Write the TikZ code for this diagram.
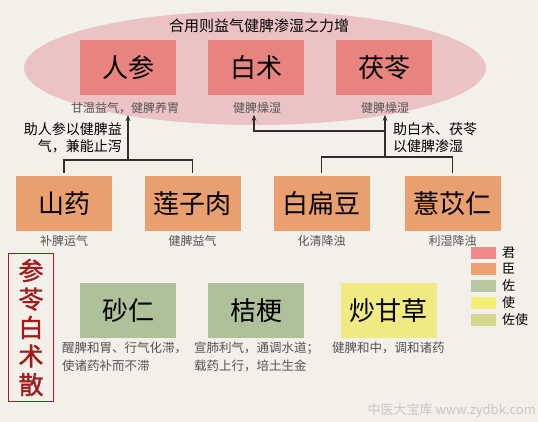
\documentclass[tikz,border=0pt]{standalone}
\usepackage{fontspec}
\setmainfont{Noto Sans CJK SC}
\newfontfamily\cjkb[FakeBold=1.5]{Noto Sans CJK SC}
\usetikzlibrary{arrows.meta,calc}
\definecolor{bg}{HTML}{F3EFE9}
\definecolor{ell}{HTML}{EBC3C4}
\definecolor{jun}{HTML}{E8847F}
\definecolor{chen}{HTML}{E9A06E}
\definecolor{zuo}{HTML}{AFC19A}
\definecolor{shi}{HTML}{EFEA82}
\definecolor{zuoshi}{HTML}{D5D78E}
\definecolor{lgjun}{HTML}{EE8A8A}
\definecolor{lgchen}{HTML}{EFA070}
\definecolor{lgzuo}{HTML}{B5C8A2}
\definecolor{lgshi}{HTML}{F5EF7A}
\definecolor{titred}{HTML}{A31A1C}
\definecolor{subgray}{HTML}{555555}
\definecolor{linec}{HTML}{2E2E2E}
\tikzset{
  herb/.style={minimum width=96pt, minimum height=55pt, inner sep=0pt, font=\fontsize{26}{28}\selectfont, text=black},
  sub/.style={font=\fontsize{12}{14}\selectfont, text=subgray, inner sep=1pt},
  desc/.style={font=\fontsize{12.5}{18}\selectfont, text=subgray, inner sep=0pt, align=left, anchor=north west},
  lab/.style={font=\fontsize{14}{17}\selectfont, text=black, inner sep=0pt},
  conn/.style={draw=linec, line width=1.3pt},
  arr/.style={conn, -{Stealth[length=6pt,width=4.5pt]}},
  swatch/.style={minimum width=25pt, minimum height=12pt, inner sep=0pt},
  lgtext/.style={font=\fontsize{13}{14}\selectfont, anchor=west, inner sep=0pt}
}
\begin{document}
\begin{tikzpicture}[x=1pt,y=-1pt]
\fill[bg] (0,0) rectangle (538,422);
\useasboundingbox (0,0) rectangle (538,422);
% ellipse
\fill[ell] (255,68) ellipse [x radius=231, y radius=57];
\node[font=\fontsize{15}{17}\selectfont, inner sep=0pt] (title) at (259,26) {合用则益气健脾渗湿之力增};
% jun
\node[herb, fill=jun] (renshen) at (128,67.5) {人参};
\node[herb, fill=jun] (baizhu) at (256,67.5) {白术};
\node[herb, fill=jun] (fuling) at (384,67.5) {茯苓};
\node[sub] (rsSub) at (125,108) {甘温益气，健脾养胃};
\node[sub] (bzSub) at (257,108) {健脾燥湿};
\node[sub] (flSub) at (385,108) {健脾燥湿};
% chen
\node[herb, fill=chen] (shanyao) at (64,203.5) {山药};
\node[herb, fill=chen] (lianzi) at (192.5,203.5) {莲子肉};
\node[herb, fill=chen] (biandou) at (321.5,203.5) {白扁豆};
\node[herb, fill=chen] (yiyi) at (452.5,203.5) {薏苡仁};
\node[sub] (sySub) at (64,241) {补脾运气};
\node[sub] (lzSub) at (192.5,241) {健脾益气};
\node[sub] (bdSub) at (321.5,241) {化清降浊};
\node[sub] (yySub) at (452.5,241) {利湿降浊};
% connectors
\coordinate (jL) at (128,160);
\coordinate (jR) at (385,157);
\coordinate (jT) at (385,131);
\draw[conn] ([yshift=3pt]shanyao.north) |- (jL) -| ([yshift=3pt]lianzi.north);
\draw[arr] (jL) -- (jL |- rsSub.south);
\draw[conn] ([yshift=3pt]biandou.north) |- (jR) -| ([yshift=3pt]yiyi.north);
\draw[arr] (jR) -- (jR |- flSub.south);
\draw[arr] (jT) -| ([xshift=-3pt]bzSub.south);
\node[lab, align=right, anchor=east] (labL) at (122,137.5) {助人参以健脾益\\气，兼能止泻};
\node[lab, align=left, anchor=west] (labR) at (393,137.5) {助白术、茯苓\\以健脾渗湿};
% formula name
\node[draw=titred, line width=1.6pt, text=titred, minimum width=45pt, minimum height=148pt, inner sep=0pt, align=center, font=\cjkb\fontsize{25}{28.5}\selectfont] (name) at (31,327.5) {参\\苓\\白\\术\\散};
% zuo / shi
\node[herb, fill=zuo] (sharen) at (128,310.5) {砂仁};
\node[herb, fill=zuo] (jiegeng) at (256,310.5) {桔梗};
\node[herb, fill=shi] (gancao) at (388.5,310.5) {炒甘草};
\node[desc] (srDesc) at (62,342) {醒脾和胃、行气化滞，\\使诸药补而不滞};
\node[desc] (jgDesc) at (194,342) {宣肺利气，通调水道；\\载药上行，培土生金};
\node[desc] (gcDesc) at (332,342) {健脾和中，调和诸药};
% legend
\node[swatch, fill=lgjun] (s1) at (483.5,253) {};
\node[swatch, fill=lgchen] (s2) at (483.5,269) {};
\node[swatch, fill=lgzuo] (s3) at (483.5,286) {};
\node[swatch, fill=lgshi] (s4) at (483.5,303) {};
\node[swatch, fill=zuoshi] (s5) at (483.5,319.5) {};
\node[lgtext] (t1) at (502,253) {君};
\node[lgtext] (t2) at (502,269) {臣};
\node[lgtext] (t3) at (502,286) {佐};
\node[lgtext] (t4) at (502,303) {使};
\node[lgtext] (t5) at (502,319.5) {佐使};
% watermark
\node[font=\fontsize{13}{14}\selectfont, text=black!22, anchor=east, inner sep=0pt] (wm) at (536,411) {中医大宝库 www.zydbk.com};
\end{tikzpicture}
\end{document}
